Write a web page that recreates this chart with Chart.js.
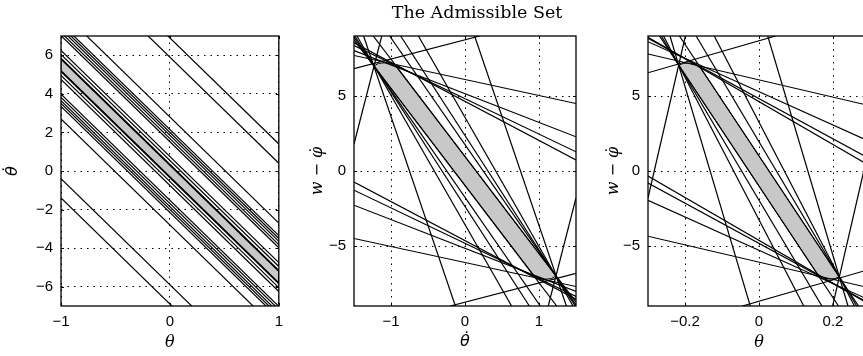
<!DOCTYPE html>
<html>
<head>
<meta charset="utf-8">
<script src="https://cdn.jsdelivr.net/npm/chart.js@4.4.1/dist/chart.umd.min.js"></script>
<style>
  html, body { margin: 0; background: #fff; overflow: hidden; width: 863px; height: 356px; }
  canvas { position: absolute; top: 0; }
</style>
</head>
<body>
<canvas id="c1"></canvas>
<canvas id="c2"></canvas>
<canvas id="c3"></canvas>
<script>
const figTitle = 'The Admissible Set';

// ---- panel 1 : theta / theta-dot, each line is [θ1, θ̇1, θ2, θ̇2] ----
const p1Lines = [
  [-1, 12.4, 1, 1.4],  [-1, -1.4, 1, -12.4],
  [-1, 11.4, 1, 0.4],  [-1, -0.4, 1, -11.4],
  [-1, 8.3, 1, -2.7],  [-1, 2.7, 1, -8.3],
  [-1, 7.65, 1, -3.35], [-1, 3.35, 1, -7.65],
  [-1, 7.5, 1, -3.5],  [-1, 3.5, 1, -7.5],
  [-1, 7.35, 1, -3.65], [-1, 3.65, 1, -7.35],
  [-1, 7.18, 1, -3.82], [-1, 3.82, 1, -7.18],
  [-1, 7.02, 1, -3.98], [-1, 3.98, 1, -7.02],
  [-1, 6.25, 1, -4.75], [-1, 4.75, 1, -6.25],
  [-1, 6.05, 1, -4.95], [-1, 4.95, 1, -6.05],
  [-1, 5.85, 1, -5.15], [-1, 5.15, 1, -5.85],
  [-1, 5.8, 1, -5.2],  [-1, 5.2, 1, -5.8]
];
const p1Band = [[-1, 5.8], [1, -5.2], [1, -5.8], [-1, 5.2]];
const p1XTicks = [-1, 0, 1];
const p1YTicks = [-6, -4, -2, 0, 2, 4, 6];

// ---- panel 2 : theta-dot / w - phi-dot ----
const p2Lines = [
  [-1.5, 1.8, -1.125, 9],   [1.5, -1.8, 1.125, -9],
  [-1.5, 6.82, 0.2, 9],     [1.5, -6.82, -0.2, -9],
  [-1.37, 9, -0.13, -9],    [1.37, -9, 0.13, 9],
  [-1.5, 7.7, 1.5, 4.5],    [-1.5, -4.5, 1.5, -7.7],
  [-1.5, 8.03, 1.5, 2.28],  [-1.5, -2.28, 1.5, -8.03],
  [-1.5, 8.36, 1.5, 1.28],  [-1.5, -1.28, 1.5, -8.36],
  [-1.5, 8.55, 1.5, 0.73],  [-1.5, -0.73, 1.5, -8.55],
  [-1.46, 9, 0.63, -9],     [1.46, -9, -0.63, 9],
  [-1.49, 9, 0.87, -9],     [1.49, -9, -0.87, 9],
  [-1.5, 8.92, 1.018, -9],  [1.5, -8.92, -1.018, 9],
  [-1.5, 8.74, 1.24, -9],   [1.5, -8.74, -1.24, 9]
];
const p2Set = [[-1.23, 7.0], [-1.17, 7.17], [-1.08, 7.22], [-1.0, 7.13], [-0.93, 6.95],
               [1.23, -7.0], [1.17, -7.17], [1.08, -7.22], [1.0, -7.13], [0.93, -6.95]];
const p2XTicks = [-1, 0, 1];
const p2YTicks = [-5, 0, 5];

// ---- panel 3 : theta / w - phi-dot ----
const p3Lines = [
  [-0.3, -1.8, -0.199, 9],   [0.3, 1.8, 0.199, -9],
  [-0.3, 6.55, 0.045, 9],    [0.3, -6.55, -0.045, -9],
  [-0.3, 7.8, 0.3, 4.35],    [-0.3, -4.35, 0.3, -7.8],
  [-0.3, 8.62, 0.3, 1.96],   [-0.3, -1.96, 0.3, -8.62],
  [-0.3, 8.84, 0.3, 0.8],    [-0.3, -0.8, 0.3, -8.84],
  [-0.3, 8.92, 0.3, 0.34],   [-0.3, -0.34, 0.3, -8.92],
  [-0.2405, 9, -0.0236, -9], [0.2405, -9, 0.0236, 9],
  [-0.258, 9, 0.121, -9],    [0.258, -9, -0.121, 9],
  [-0.264, 9, 0.17, -9],     [0.264, -9, -0.17, 9],
  [-0.269, 9, 0.215, -9],    [0.269, -9, -0.215, 9]
];
const p3Set = [[-0.217, 7.05], [-0.205, 7.17], [-0.19, 7.21], [-0.175, 7.12], [-0.16, 6.95],
               [0.217, -7.05], [0.205, -7.17], [0.19, -7.21], [0.175, -7.12], [0.16, -6.95]];
const p3XTicks = [-0.2, 0, 0.2];
const p3YTicks = [-5, 0, 5];

const H = 356;
const TICK_FONT = { family: "'Liberation Sans', Arial, sans-serif", size: 15 };
// DejaVu Serif drops the combining dot on θ, so the dotted labels use DejaVu Sans
const SERIF_LABEL = { family: "'DejaVu Serif', serif", size: 16, style: 'italic' };
const DOT_LABEL = { family: "'DejaVu Sans', sans-serif", size: 16, style: 'italic' };

function lineSets(lines) {
  return lines.map(([x1, y1, x2, y2]) => ({
    data: [{ x: x1, y: y1 }, { x: x2, y: y2 }],
    borderColor: '#000', borderWidth: 1.2, pointRadius: 0, fill: false, clip: 0
  }));
}

function regionSet(pts) {
  const d = pts.map(([x, y]) => ({ x, y }));
  d.push(d[0]);
  return {
    data: d, fill: 'shape', backgroundColor: '#c8c8c8',
    borderColor: '#000', borderWidth: 1, pointRadius: 0, clip: 0
  };
}

// box round the axes, small inward tick marks, and the figure title
const boxPlugin = {
  id: 'box',
  afterDraw(chart, args, opts) {
    const { ctx, chartArea: a, scales: { x, y } } = chart;
    ctx.save();
    ctx.strokeStyle = '#000';
    ctx.lineWidth = 1;
    ctx.beginPath();
    x.ticks.forEach(t => {
      const px = Math.round(x.getPixelForValue(t.value)) + 0.5;
      ctx.moveTo(px, a.bottom); ctx.lineTo(px, a.bottom - 3);
      ctx.moveTo(px, a.top);    ctx.lineTo(px, a.top + 3);
    });
    y.ticks.forEach(t => {
      const py = Math.round(y.getPixelForValue(t.value)) + 0.5;
      ctx.moveTo(a.left, py);  ctx.lineTo(a.left + 3, py);
      ctx.moveTo(a.right, py); ctx.lineTo(a.right - 3, py);
    });
    ctx.stroke();
    ctx.lineWidth = 1.3;
    ctx.strokeRect(a.left, a.top, a.right - a.left, a.bottom - a.top);

    if (opts.title) {
      ctx.fillStyle = '#000';
      ctx.font = "17.5px 'DejaVu Serif', serif";
      ctx.textAlign = 'center';
      ctx.textBaseline = 'middle';
      ctx.fillText(opts.title, (a.left + a.right) / 2 + 12, 13.5);
    }
    ctx.restore();
  }
};

const fmt = v => String(v).replace('-', '\u2212');

function makeChart(id, cfg) {
  const canvas = document.getElementById(id);
  canvas.width = cfg.width;
  canvas.height = H;
  canvas.style.left = cfg.left + 'px';

  const grid = { color: '#000', lineWidth: 1, drawTicks: false };
  const border = { display: false, dash: [1.5, 5] };

  return new Chart(canvas, {
    type: 'line',
    data: { datasets: [...lineSets(cfg.lines), regionSet(cfg.region)] },
    options: {
      responsive: false,
      animation: false,
      events: [],
      layout: { autoPadding: false, padding: { top: 36, right: cfg.padRight, left: 0, bottom: 0 } },
      elements: { line: { tension: 0 }, point: { radius: 0 } },
      plugins: {
        legend: { display: false },
        tooltip: { enabled: false },
        box: { title: cfg.title || '' }
      },
      scales: {
        x: {
          type: 'linear', min: cfg.xMin, max: cfg.xMax,
          afterBuildTicks: s => { s.ticks = cfg.xTicks.map(v => ({ value: v })); },
          afterFit: s => { s.height = 50; },
          grid, border,
          ticks: { color: '#000', font: TICK_FONT, padding: 7, maxRotation: 0, callback: fmt },
          title: { display: true, text: cfg.xLabel, color: '#000', font: cfg.xFont, padding: { top: 0, bottom: cfg.xTitlePad } }
        },
        y: {
          type: 'linear', min: cfg.yMin, max: cfg.yMax,
          afterBuildTicks: s => { s.ticks = cfg.yTicks.map(v => ({ value: v })); },
          afterFit: s => { s.width = cfg.yAxisW; },
          grid, border,
          ticks: { color: '#000', font: TICK_FONT, padding: 8, callback: fmt },
          title: { display: true, text: cfg.yLabel, color: '#000', font: cfg.yFont, padding: { top: cfg.yTitlePad, bottom: 0 } }
        }
      }
    },
    plugins: [boxPlugin]
  });
}

makeChart('c1', {
  left: 0, width: 290, padRight: 7, yAxisW: 61,
  lines: p1Lines, region: p1Band,
  xMin: -1, xMax: 1, yMin: -7, yMax: 7,
  xTicks: p1XTicks, yTicks: p1YTicks,
  xLabel: '\u03b8', yLabel: '\u03b8\u0307',
  xFont: SERIF_LABEL, yFont: DOT_LABEL,
  xTitlePad: 4, yTitlePad: 3
});

makeChart('c2', {
  left: 290, width: 300, padRight: 14, yAxisW: 64,
  title: figTitle,
  lines: p2Lines, region: p2Set,
  xMin: -1.5, xMax: 1.5, yMin: -9, yMax: 9,
  xTicks: p2XTicks, yTicks: p2YTicks,
  xLabel: '\u03b8\u0307', yLabel: 'w \u2212 \u03c6\u0307',
  xFont: DOT_LABEL, yFont: SERIF_LABEL,
  xTitlePad: 5, yTitlePad: 18
});

makeChart('c3', {
  left: 580, width: 300, padRight: 10, yAxisW: 68,
  lines: p3Lines, region: p3Set,
  xMin: -0.3, xMax: 0.3, yMin: -9, yMax: 9,
  xTicks: p3XTicks, yTicks: p3YTicks,
  xLabel: '\u03b8', yLabel: 'w \u2212 \u03c6\u0307',
  xFont: SERIF_LABEL, yFont: SERIF_LABEL,
  xTitlePad: 4, yTitlePad: 24
});
</script>
</body>
</html>
